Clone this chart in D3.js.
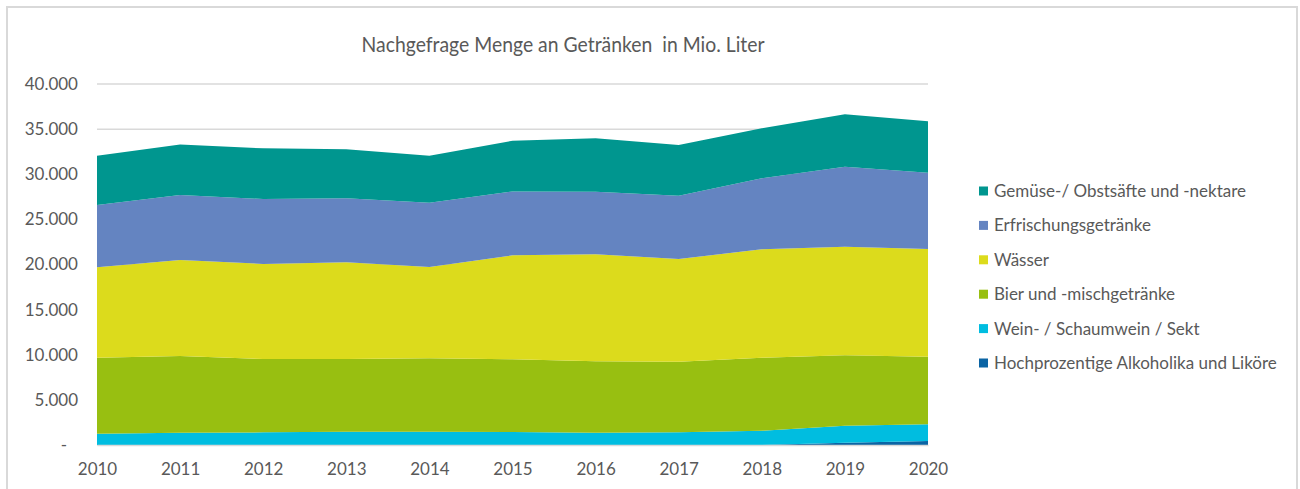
<!doctype html>
<html lang="de">
<head>
  <meta charset="utf-8">
  <title>Nachgefrage Menge an Getränken</title>
  <script src="https://cdn.jsdelivr.net/npm/d3@7/dist/d3.min.js"></script>
  <style>
    body { margin: 0; background: #fff; }
    text { font-family: Lato, "Open Sans", sans-serif; fill: #595959; }
  </style>
</head>
<body>
  <svg id="chart" width="1300" height="489"></svg>
  <script>
    // Werte in Mio. Liter
    var years = [2010, 2011, 2012, 2013, 2014, 2015, 2016, 2017, 2018, 2019, 2020];
    var hochprozentige = [0, 0, 0, 0, 0, 0, 0, 0, 0, 250, 450];
    var wein = [1250, 1360, 1400, 1480, 1480, 1440, 1360, 1400, 1590, 1890, 1840];
    var bier = [8430, 8500, 8130, 8050, 8120, 8050, 7910, 7830, 8090, 7800, 7500];
    var waesser = [10010, 10640, 10530, 10710, 10120, 11530, 11860, 11380, 12000, 12030, 11930];
    var erfrischung = [6910, 7200, 7200, 7090, 7130, 7080, 6940, 7020, 7870, 8870, 8460];
    var gemuese = [5450, 5600, 5610, 5430, 5200, 5620, 5910, 5610, 5540, 5800, 5690];

    var seriesNames = ["Hochprozentige Alkoholika und Liköre", "Wein- / Schaumwein / Sekt",
      "Bier und -mischgetränke", "Wässer", "Erfrischungsgetränke", "Gemüse-/ Obstsäfte und -nektare"];
    var seriesValues = [hochprozentige, wein, bier, waesser, erfrischung, gemuese];
    var colors = ["#0a64a4", "#00bde0", "#98bf11", "#dcdb1c", "#6484c1", "#00968f"];
    var yTicks = [0, 5000, 10000, 15000, 20000, 25000, 30000, 35000, 40000];

    // table for d3.stack
    var table = years.map((y, i) => {
      var row = { year: y };
      seriesNames.forEach((n, k) => row[n] = seriesValues[k][i]);
      return row;
    });

    var svg = d3.select("#chart");

    // frame
    svg.append("rect")
      .attr("x", 7).attr("y", 7).attr("width", 1290).attr("height", 520)
      .attr("fill", "none").attr("stroke", "#d9d9d9").attr("stroke-width", 2);

    var x = d3.scaleLinear().domain([2010, 2020]).range([97, 928]);
    var y = d3.scaleLinear().domain([0, 40000]).range([445, 84]);

    // gridlines
    svg.append("g").selectAll("line")
      .data(yTicks)
      .enter().append("line")
        .attr("x1", 97).attr("x2", 928)
        .attr("y1", d => y(d)).attr("y2", d => y(d))
        .attr("stroke", "#d9d9d9").attr("stroke-width", 1.5);

    var stack = d3.stack().keys(seriesNames);
    var layers = stack(table);

    var area = d3.area()
      .x(d => x(d.data.year))
      .y0(d => y(d[0]))
      .y1(d => y(d[1]));

    svg.append("g").selectAll("path")
      .data(layers)
      .enter().append("path")
        .attr("d", area)
        .attr("fill", (d, i) => colors[i]);

    // y axis
    var fmt = d3.formatLocale({ decimal: ",", thousands: ".", grouping: [3], currency: ["", "€"] }).format(",d");
    var yAxis = svg.append("g")
      .attr("transform", "translate(78,0)")
      .call(d3.axisLeft(y).tickValues(yTicks).tickSize(0).tickPadding(0)
        .tickFormat(d => d === 0 ? "-" : fmt(d)));
    yAxis.select(".domain").remove();
    yAxis.selectAll("text")
      .style("font-size", "17px")
      .attr("fill", "#595959")
      .attr("x", d => d === 0 ? -11 : 0);

    // x axis
    var xAxis = svg.append("g")
      .attr("transform", "translate(0,445)")
      .call(d3.axisBottom(x).tickValues(years).tickSize(0).tickPadding(18).tickFormat(d3.format("d")));
    xAxis.select(".domain").attr("stroke", "#d9d9d9").attr("stroke-width", 1.5);
    xAxis.selectAll("text")
      .style("font-size", "17px")
      .attr("fill", "#595959");

    // title - squeezed a bit, the original font is narrower
    svg.append("text")
      .attr("x", 563).attr("y", 52)
      .attr("text-anchor", "middle")
      .style("font-size", "22px")
      .attr("xml:space", "preserve")
      .attr("textLength", 403)
      .attr("lengthAdjust", "spacingAndGlyphs")
      .text("Nachgefrage Menge an Getränken  in Mio. Liter");

    // legend (top series first)
    var legendItems = seriesNames.map((n, i) => ({ name: n, color: colors[i] })).reverse();
    var legend = svg.append("g").selectAll("g")
      .data(legendItems)
      .enter().append("g")
        .attr("transform", (d, i) => `translate(979, ${191 + i * 34.4})`);
    legend.append("rect")
      .attr("x", 0).attr("y", -4.5).attr("width", 9).attr("height", 9)
      .attr("fill", d => d.color);
    legend.append("text")
      .attr("x", 15).attr("y", 6)
      .style("font-size", "17px")
      .text(d => d.name);
  </script>
</body>
</html>
